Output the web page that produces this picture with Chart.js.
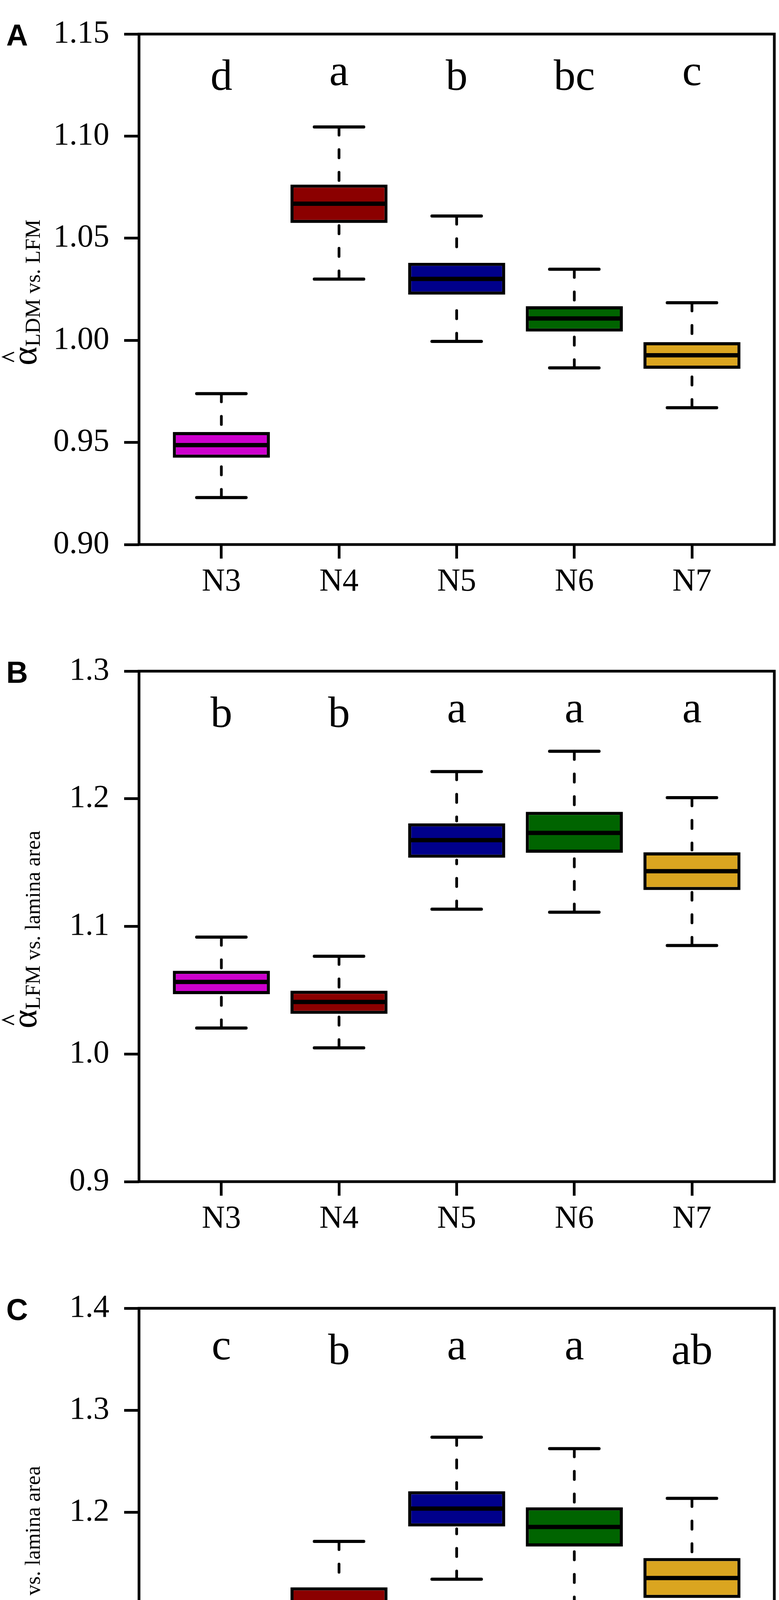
<!DOCTYPE html>
<html>
<head>
<meta charset="utf-8">
<script src="https://cdn.jsdelivr.net/npm/chart.js@4.4.0/dist/chart.umd.min.js"></script>
<style>
  body { margin: 0; background: #fff; }
  canvas { display: block; position: absolute; left: 0; }
</style>
</head>
<body>
<canvas id="chartA" width="1995" height="1631" style="top:0px"></canvas>
<canvas id="chartB" width="1995" height="1631" style="top:1631px"></canvas>
<canvas id="chartC" width="1995" height="1729" style="top:3262px"></canvas>
<script>
const groups = ['N3', 'N4', 'N5', 'N6', 'N7'];
const boxColors = ['#CD00CD', '#8B0000', '#00008B', '#006400', '#DAA520'];

// A: LDM vs. LFM
const lowA  = [0.923, 1.030, 0.9995, 0.9865, 0.967];
const q1A   = [0.9425, 1.0575, 1.0224, 1.0043, 0.9861];
const medA  = [0.9487, 1.0669, 1.0301, 1.0107, 0.9927];
const q3A   = [0.9551, 1.0763, 1.0380, 1.0167, 0.9991];
const highA = [0.9739, 1.1045, 1.0609, 1.0348, 1.0184];
const lettersA = ['d', 'a', 'b', 'bc', 'c'];
const ticksA = [0.90, 0.95, 1.00, 1.05, 1.10, 1.15];

// B: LFM vs. lamina area
const lowB  = [1.0204, 1.0048, 1.1135, 1.1111, 1.085];
const q1B   = [1.0469, 1.0315, 1.1538, 1.1577, 1.1285];
const medB  = [1.0565, 1.0408, 1.1676, 1.1733, 1.1433];
const q3B   = [1.0652, 1.0496, 1.1808, 1.1898, 1.158];
const highB = [1.0916, 1.0766, 1.2213, 1.2372, 1.2009];
const lettersB = ['b', 'b', 'a', 'a', 'a'];
const ticksB = [0.9, 1.0, 1.1, 1.2, 1.3];

// C: LDM vs. lamina area
const lowC  = [0.957, 1.0525, 1.1346, 1.1092, 1.058];
const q1C   = [0.9908, 1.0967, 1.1863, 1.1667, 1.1163];
const medC  = [1.0025, 1.1117, 1.2038, 1.1858, 1.1358];
const q3C   = [1.0133, 1.1267, 1.2208, 1.205, 1.1554];
const highC = [1.0467, 1.1717, 1.2737, 1.2625, 1.2138];
const lettersC = ['c', 'b', 'a', 'a', 'ab'];
const ticksC = [0.9, 1.0, 1.1, 1.2, 1.3, 1.4];

const serif = '"Liberation Serif", "Times New Roman", serif';

function makeOverlay(p) {
  return {
    id: 'overlay' + p.tag,
    afterDatasetsDraw(chart) {
      const ctx = chart.ctx;
      const xs = chart.scales.x, ys = chart.scales.y;
      const area = chart.chartArea;
      const bars = chart.getDatasetMeta(0).data;
      ctx.save();
      ctx.strokeStyle = '#000';
      groups.forEach((g, i) => {
        const px = xs.getPixelForValue(i + 1);
        const hc = xs.getPixelForValue(i + 1.21) - px;
        // dashed whiskers (from staple towards the box)
        ctx.lineWidth = 7;
        ctx.lineCap = 'round';
        ctx.setLineDash([21, 37]);
        ctx.beginPath();
        ctx.moveTo(px, ys.getPixelForValue(p.high[i]));
        ctx.lineTo(px, ys.getPixelForValue(p.q3[i]) - 6);
        ctx.moveTo(px, ys.getPixelForValue(p.low[i]));
        ctx.lineTo(px, ys.getPixelForValue(p.q1[i]) + 6);
        ctx.stroke();
        ctx.setLineDash([]);
        // staples
        ctx.lineWidth = 8;
        ctx.beginPath();
        [p.high[i], p.low[i]].forEach(v => {
          const py = ys.getPixelForValue(v);
          ctx.moveTo(px - hc, py);
          ctx.lineTo(px + hc, py);
        });
        ctx.stroke();
        // median
        const hw = bars[i].width / 2 - 5;
        const pm = ys.getPixelForValue(p.med[i]);
        ctx.lineCap = 'butt';
        ctx.lineWidth = 11;
        ctx.beginPath();
        ctx.moveTo(px - hw, pm);
        ctx.lineTo(px + hw, pm);
        ctx.stroke();
        // significance letters, centred on their own ink box
        ctx.font = '112px ' + serif;
        ctx.fillStyle = '#000';
        ctx.textAlign = 'center';
        ctx.textBaseline = 'alphabetic';
        const m = ctx.measureText(p.letters[i]);
        const cy = ys.getPixelForValue(p.letterY);
        ctx.fillText(p.letters[i], px, cy + (m.actualBoundingBoxAscent - m.actualBoundingBoxDescent) / 2);
      });
      // frame
      ctx.lineWidth = 7;
      ctx.lineCap = 'butt';
      ctx.strokeRect(area.left, area.top, area.right - area.left, area.bottom - area.top);

      // panel tag
      ctx.font = 'bold 77px "Liberation Sans", Arial, sans-serif';
      ctx.textAlign = 'left';
      ctx.fillText(p.tag, 16, area.top + 30);

      // y title: alpha-hat with subscript
      const cy = (area.top + area.bottom) / 2 + 8;
      ctx.translate(102, cy);
      ctx.rotate(-Math.PI / 2);
      const aFont = '92px ' + serif, sFont = '55px ' + serif;
      ctx.font = aFont;
      const aw = ctx.measureText('α').width;
      ctx.font = sFont;
      const sw = ctx.measureText(p.sub).width;
      const start = -(aw + sw) / 2;
      ctx.font = aFont;
      ctx.fillText('α', start, -9);
      ctx.font = sFont;
      ctx.fillText(p.sub, start + aw, 0);
      // hat
      const hx = start + aw * 0.45;
      ctx.lineWidth = 3.5;
      ctx.lineJoin = 'miter';
      ctx.beginPath();
      ctx.moveTo(hx - 12, -66);
      ctx.lineTo(hx, -94);
      ctx.lineTo(hx + 12, -66);
      ctx.stroke();
      ctx.restore();

      if (p.xTitle) {
        ctx.save();
        ctx.font = '86px ' + serif;
        ctx.fillStyle = '#000';
        ctx.textAlign = 'center';
        ctx.fillText(p.xTitle, (area.left + area.right) / 2, area.bottom + 294);
        ctx.restore();
      }
    }
  };
}

function makeChart(id, p) {
  new Chart(document.getElementById(id), {
    type: 'bar',
    data: {
      datasets: [{
        data: groups.map((g, i) => ({ x: i + 1, y: [p.q1[i], p.q3[i]] })),
        backgroundColor: boxColors,
        borderColor: '#000',
        borderWidth: 8,
        borderSkipped: false,
        barPercentage: 0.825,
        categoryPercentage: 1
      }]
    },
    options: {
      responsive: false,
      animation: false,
      devicePixelRatio: 1,
      layout: { padding: { top: 37, right: 12, left: 0, bottom: 0 } },
      plugins: { legend: { display: false }, tooltip: { enabled: false } },
      scales: {
        x: {
          type: 'linear',
          min: 0.3,
          max: 5.7,
          offset: false,
          afterBuildTicks: s => { s.ticks = groups.map((g, i) => ({ value: i + 1 })); },
          afterFit: s => { s.height = p.xHeight; },
          ticks: {
            callback: v => groups[v - 1],
            font: { family: serif, size: 82 },
            color: '#000',
            padding: 11,
            maxRotation: 0,
            autoSkip: false
          },
          grid: { offset: false, drawOnChartArea: false, drawTicks: true, tickLength: 36, tickWidth: 7, color: '#000' },
          border: { display: false }
        },
        y: {
          min: p.ticks[0],
          max: p.ticks[p.ticks.length - 1],
          afterBuildTicks: s => { s.ticks = p.ticks.map(v => ({ value: v })); },
          afterFit: s => { s.width = 356; },
          ticks: {
            callback: v => v.toFixed(p.dec),
            font: { family: serif, size: 82 },
            color: '#000',
            padding: 38,
            autoSkip: false
          },
          grid: { drawOnChartArea: false, drawTicks: true, tickLength: 38, tickWidth: 7, color: '#000' },
          border: { display: false }
        }
      }
    },
    plugins: [makeOverlay(p)]
  });
}

makeChart('chartA', { tag: 'A', low: lowA, q1: q1A, med: medA, q3: q3A, high: highA,
  letters: lettersA, letterY: 1.13, ticks: ticksA, dec: 2, sub: 'LDM vs. LFM', xHeight: 237 });
makeChart('chartB', { tag: 'B', low: lowB, q1: q1B, med: medB, q3: q3B, high: highB,
  letters: lettersB, letterY: 1.268, ticks: ticksB, dec: 1, sub: 'LFM vs. lamina area', xHeight: 237 });
makeChart('chartC', { tag: 'C', low: lowC, q1: q1C, med: medC, q3: q3C, high: highC,
  letters: lettersC, letterY: 1.36, ticks: ticksC, dec: 1, sub: 'LDM vs. lamina area', xHeight: 335,
  xTitle: 'Leaf\u2212age group' });
</script>
</body>
</html>
